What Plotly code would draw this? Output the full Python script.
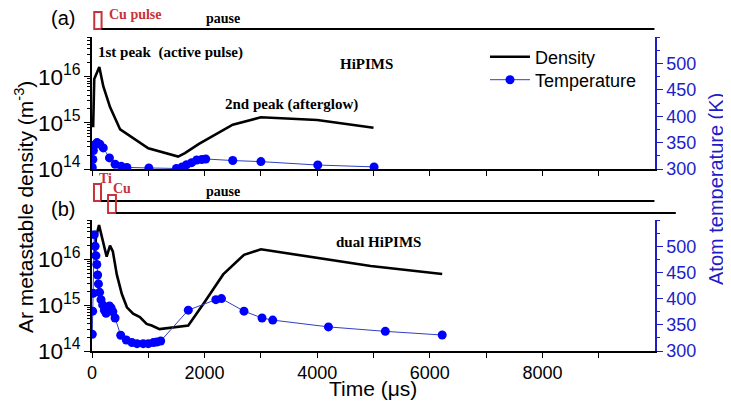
import plotly.graph_objects as go

W, H = 731, 404
OFF = 8  # page body margin
FW, FH = W - OFF, H - OFF

# ---------------- data ----------------
# (a) HiPIMS
t_dens_a = [20, 40, 130, 200, 320, 500, 1000, 1530, 1650, 1900, 2500, 3000, 4000, 5000]
n_dens_a = [8e14, 8.9e15, 1.62e16, 6.2e15, 2.2e15, 7.2e14, 2.8e14, 1.86e14, 2.2e14, 3.5e14,
            9.1e14, 1.32e15, 1.15e15, 7.8e14]
t_temp_a = [5, 15, 25, 50, 90, 140, 200, 310, 410, 520, 620, 1010, 1500, 1600, 1680, 1770,
            1860, 1950, 2020, 2500, 3000, 4010, 5010]
T_temp_a = [303, 318, 335, 346, 350, 347, 340, 321, 309, 305, 303, 302, 301, 304, 308, 312,
            317, 318, 319, 316, 314, 307.5, 304]

# (b) dual HiPIMS
t_dens_b = [50, 70, 125, 190, 260, 320, 370, 440, 530, 620, 730, 850, 970, 1060, 1200,
            1710, 1980, 2330, 2700, 3000, 4000, 4950, 6220]
n_dens_b = [1.2e16, 3e16, 5.6e16, 2.45e16, 1.15e16, 2.0e16, 1.5e16, 4.7e15, 1.75e15, 9e14,
            6.5e14, 5.5e14, 3.9e14, 3.6e14, 3.0e14, 3.6e14, 1.07e15, 4.7e15, 1.26e16,
            1.66e16, 1.07e16, 7.2e15, 4.8e15]
t_temp_b = [5, 12, 22, 40, 55, 70, 85, 100, 115, 135, 160, 190, 220, 250, 280, 310, 340, 370,
            410, 510, 610, 710, 800, 910, 1000, 1090, 1150, 1220, 1710, 2200, 2300, 2700,
            3020, 3210, 4200, 5210, 6220]
T_temp_b = [332, 376, 410, 522, 500, 482, 465, 445, 428, 412, 398, 388, 378, 372, 376, 386,
            382, 375, 363, 330, 321, 316, 314, 314, 314, 316, 317, 319, 378, 398, 400, 376,
            363, 359, 346, 337.5, 330.5]

# pulse diagrams (µs)
pulse_cu_a = [40, 170]
pulse_ti_b = [35, 160]
pulse_cu_b = [285, 425]

x_ticks = [0, 1000, 2000, 3000, 4000, 5000, 6000, 7000, 8000, 9000]
x_ticklabels = ["0", "", "2000", "", "4000", "", "6000", "", "8000", ""]
temp_ticks = [300, 350, 400, 450, 500]

# ---------------- styling ----------------
FONT = "Arial, Liberation Sans, sans-serif"
SERIF = "Times New Roman, Liberation Serif, serif"
BLUE_TXT = "#1e1ec8"
BLUE = "#0000ff"
RED = "#c8323c"


def px_x(p):
    return (p - OFF) / FW


def px_y(p):
    return 1 - (p - OFF) / FH


xdom = [px_x(92), px_x(655)]
ydom_top = [px_y(169), px_y(37)]
ydom_bot = [px_y(351), px_y(220)]

fig = go.Figure()

fig.add_trace(go.Scatter(x=t_dens_a, y=n_dens_a, mode="lines", name="Density", legend="legend",
                         line=dict(color="black", width=2.6), xaxis="x2", yaxis="y3"))
fig.add_trace(go.Scatter(x=t_temp_a, y=T_temp_a, mode="lines+markers", name="Temperature",
                         legend="legend2",
                         line=dict(color="#3040c0", width=1),
                         marker=dict(color=BLUE, size=9), xaxis="x2", yaxis="y4"))
fig.add_trace(go.Scatter(x=t_dens_b, y=n_dens_b, mode="lines", showlegend=False,
                         line=dict(color="black", width=2.6), xaxis="x", yaxis="y"))
fig.add_trace(go.Scatter(x=t_temp_b, y=T_temp_b, mode="lines+markers", showlegend=False,
                         line=dict(color="#3040c0", width=1),
                         marker=dict(color=BLUE, size=9), xaxis="x", yaxis="y2"))

xcommon = dict(range=[0, 10000], domain=xdom, tickmode="array", tickvals=x_ticks,
               ticks="outside", ticklen=5, tickwidth=1.2, tickcolor="black", automargin=False,
               showline=True, linecolor="black", linewidth=1.5, showgrid=False,
               zeroline=False, tickfont=dict(family=FONT, size=18, color="black"))
xtopcommon = dict(range=[0, 10000], domain=xdom, tickmode="array", tickvals=x_ticks,
                  ticks="inside", ticklen=5, tickwidth=1.2, tickcolor="black", automargin=False,
                  showline=True, linecolor="black", linewidth=1.5, showgrid=False,
                  zeroline=False, showticklabels=False, side="top")

logcommon = dict(type="log", range=[14, 16.86], dtick=1, exponentformat="power",
                 ticks="outside", ticklen=6, tickwidth=1.2, tickcolor="black", automargin=False,
                 minor=dict(ticks="outside", ticklen=3, tickcolor="black", dtick="D1",
                            showgrid=False),
                 showline=True, linecolor="black", linewidth=1.5, showgrid=False,
                 zeroline=False, tickfont=dict(family=FONT, size=18, color="black"))
tcommon = dict(range=[300, 550], tickmode="array", tickvals=temp_ticks, side="right",
               ticks="outside", ticklen=6, tickwidth=1.2, tickcolor=BLUE_TXT, automargin=False,
               minor=dict(ticks="outside", ticklen=3, tickcolor=BLUE_TXT,
                          tickmode="linear", tick0=300, dtick=25),
               showline=True, linecolor=BLUE_TXT, linewidth=1.5, showgrid=False,
               zeroline=False, tickfont=dict(family=FONT, size=18, color=BLUE_TXT))

legcommon = dict(xanchor="left", yanchor="middle", bgcolor="rgba(0,0,0,0)",
                 font=dict(family=FONT, size=18, color="black"), itemwidth=40)

fig.update_layout(
    width=FW, height=FH, margin=dict(l=0, r=0, t=0, b=0, autoexpand=False),
    paper_bgcolor="white", plot_bgcolor="white",
    xaxis=dict(anchor="y", ticktext=x_ticklabels, **xcommon),
    xaxis2=dict(anchor="y3", showticklabels=False, **xcommon),
    xaxis3=dict(anchor="y", overlaying="x", **xtopcommon),
    xaxis4=dict(anchor="y3", overlaying="x2", **xtopcommon),
    yaxis=dict(anchor="x", domain=ydom_bot, **logcommon),
    yaxis2=dict(anchor="x", overlaying="y", **tcommon),
    yaxis3=dict(anchor="x2", domain=ydom_top, **logcommon),
    yaxis4=dict(anchor="x2", overlaying="y3", **tcommon),
    legend=dict(x=px_x(485), y=px_y(57), **legcommon),
    legend2=dict(x=px_x(485), y=px_y(80), **legcommon),
    showlegend=True,
)

shapes = []
# (a) pulse diagram
shapes.append(dict(type="rect", xref="x2", yref="paper", x0=pulse_cu_a[0], x1=pulse_cu_a[1],
                   y0=px_y(29), y1=px_y(12), line=dict(color=RED, width=2)))
shapes.append(dict(type="line", xref="x2", yref="paper", x0=pulse_cu_a[1], x1=9990,
                   y0=px_y(29), y1=px_y(29), line=dict(color="black", width=2)))
# (b) pulse diagram
shapes.append(dict(type="rect", xref="x", yref="paper", x0=pulse_ti_b[0], x1=pulse_ti_b[1],
                   y0=px_y(201), y1=px_y(184), line=dict(color=RED, width=2)))
shapes.append(dict(type="line", xref="x", yref="paper", x0=pulse_ti_b[1], x1=9990,
                   y0=px_y(201), y1=px_y(201), line=dict(color="black", width=2)))
shapes.append(dict(type="rect", xref="x", yref="paper", x0=pulse_cu_b[0], x1=pulse_cu_b[1],
                   y0=px_y(213), y1=px_y(195), line=dict(color=RED, width=2)))
shapes.append(dict(type="line", xref="x", yref="paper", x0=pulse_cu_b[1], x1=9995,
                   y0=px_y(213), y1=px_y(213), line=dict(color="black", width=2)))
shapes.append(dict(type="line", xref="x domain", yref="paper", x0=0.995, x1=1.037,
                   y0=px_y(213), y1=px_y(213), line=dict(color="black", width=2)))
fig.update_layout(shapes=shapes)


def ann(text, x, y, size, color="black", family=SERIF, bold=True, xanchor="center", angle=0):
    t = f"<b>{text}</b>" if bold else text
    return dict(text=t, x=px_x(x), y=px_y(y), xref="paper", yref="paper", showarrow=False,
                xanchor=xanchor, yanchor="middle", textangle=angle,
                font=dict(family=family, size=size, color=color))


annotations = [
    ann("(a)", 63, 18, 20, family=FONT, bold=False),
    ann("(b)", 63, 209, 20, family=FONT, bold=False),
    ann("Cu pulse", 107, 15, 14, color=RED, xanchor="left"),
    ann("pause", 204, 18, 14, xanchor="left"),
    ann("Ti", 97, 178, 14, color=RED, xanchor="left"),
    ann("Cu", 111, 188, 14, color=RED, xanchor="left"),
    ann("pause", 204, 191, 14, xanchor="left"),
    ann("1st peak&nbsp;&nbsp;(active pulse)", 96, 52, 15, xanchor="left"),
    ann("HiPIMS", 338, 64, 15, xanchor="left"),
    ann("2nd peak (afterglow)", 223, 104, 15, xanchor="left"),
    ann("dual HiPIMS", 334, 242, 15, xanchor="left"),
    ann("Time (μs)", 373, 388, 21, family=FONT, bold=False),
    ann("Ar metastable density (m<sup>-3</sup>)", 24, 207, 21, family=FONT, bold=False, angle=-90),
    ann("Atom temperature (K)", 716, 189, 20, color=BLUE_TXT, family=FONT, bold=False, angle=-90),
]
fig.update_layout(annotations=annotations)

fig.write_html("out.html")
